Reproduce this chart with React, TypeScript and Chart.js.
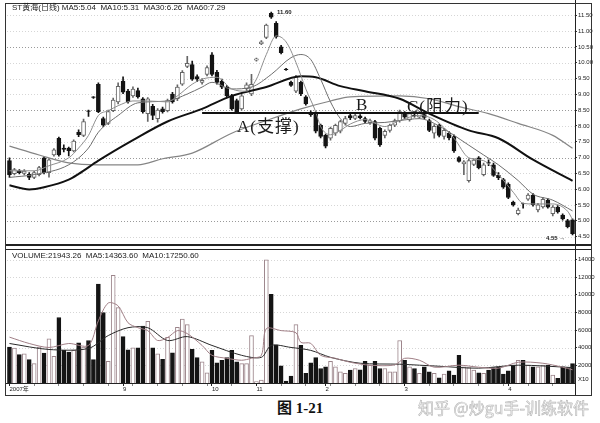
import React, { useEffect, useRef } from 'react';
import { Chart, registerables } from 'chart.js';

Chart.register(...registerables);

// ---------- price candles (daily) ----------
const OPEN = [6.90,6.49,6.58,6.50,6.47,6.37,6.46,6.99,6.52,7.08,7.61,7.30,7.30,7.21,7.80,7.70,8.48,8.92,9.32,8.23,8.08,8.48,8.76,9.42,9.10,8.95,9.12,8.86,8.39,8.62,8.23,8.54,8.48,9.01,8.86,9.32,9.88,9.94,9.56,9.38,9.63,10.25,9.70,9.42,9.23,8.95,8.80,8.54,9.18,9.01,10.08,10.60,10.80,11.56,11.25,10.50,9.80,9.38,9.10,9.38,8.92,8.42,8.39,8.02,7.70,7.61,7.77,7.83,8.08,8.33,8.24,8.32,8.23,8.10,8.14,7.92,7.70,7.86,8.02,8.17,8.39,8.20,8.34,8.28,8.36,8.17,7.77,8.02,7.67,7.77,7.67,7.00,6.80,6.27,6.78,6.99,6.46,6.84,6.77,6.44,6.30,6.15,5.59,5.22,5.54,5.68,5.81,5.34,5.44,5.65,5.22,5.43,5.18,5.00,5.03];
const HIGH = [6.99,6.66,6.62,6.62,6.52,6.56,6.72,7.03,6.97,7.28,7.65,7.40,7.33,7.56,7.88,8.22,8.50,8.93,9.36,8.28,8.50,8.88,9.36,9.55,9.16,9.24,9.20,8.90,8.90,8.68,8.55,8.60,8.85,9.06,9.30,9.75,10.20,10.05,9.62,9.50,9.90,10.32,9.76,9.48,9.28,9.00,8.85,9.00,9.36,9.63,10.15,10.70,11.22,11.60,11.30,10.55,9.82,9.42,9.60,9.42,8.96,8.48,8.45,8.06,7.74,7.96,8.06,8.18,8.30,8.38,8.38,8.36,8.28,8.22,8.18,7.96,7.88,8.06,8.22,8.50,8.45,8.44,8.40,8.46,8.42,8.22,8.04,8.06,7.92,7.82,7.72,7.03,6.90,6.96,6.97,7.03,6.82,6.93,6.82,6.52,6.34,6.20,5.62,5.40,5.56,5.86,5.86,5.55,5.74,5.70,5.48,5.48,5.22,5.04,5.06];
const LOW = [6.37,6.45,6.48,6.45,6.30,6.33,6.42,6.48,6.38,7.04,7.04,7.18,7.05,7.18,7.66,7.66,8.30,8.87,8.42,7.98,8.04,8.45,8.70,9.02,8.72,8.90,8.88,8.40,8.14,8.20,8.12,8.40,8.44,8.72,8.80,9.28,9.84,9.44,9.40,9.32,9.58,9.58,9.32,9.18,8.90,8.50,8.40,8.50,9.12,8.96,10.05,10.57,10.76,11.40,10.78,10.28,9.76,9.25,9.05,8.96,8.66,8.30,7.78,7.62,7.30,7.55,7.70,7.78,8.02,8.20,8.20,8.22,8.10,8.05,7.56,7.35,7.62,7.80,7.98,8.12,8.22,8.15,8.28,8.24,8.22,7.82,7.61,7.65,7.58,7.56,7.16,6.85,6.46,6.22,6.74,6.64,6.42,6.74,6.40,6.30,6.02,5.70,5.46,5.18,5.40,5.64,5.46,5.28,5.40,5.40,5.15,5.24,5.02,4.77,4.55];
const CLOSE = [6.46,6.62,6.52,6.57,6.37,6.52,6.68,6.52,6.93,7.24,7.08,7.26,7.22,7.52,7.72,8.14,8.46,8.90,8.45,8.02,8.45,8.82,9.25,9.07,8.76,9.17,8.92,8.45,8.86,8.33,8.50,8.45,8.80,8.76,9.23,9.70,9.98,9.48,9.48,9.44,9.85,9.63,9.38,9.23,8.95,8.54,8.45,8.95,9.30,9.32,10.12,10.66,11.19,11.44,10.82,10.32,9.78,9.28,9.55,9.01,8.70,8.36,7.83,7.67,7.36,7.92,8.02,8.14,8.23,8.25,8.33,8.26,8.14,8.17,7.61,7.40,7.83,8.02,8.17,8.45,8.28,8.39,8.32,8.40,8.27,7.86,7.99,7.70,7.86,7.62,7.21,6.88,6.86,6.90,6.92,6.68,6.77,6.82,6.43,6.36,6.06,5.74,5.50,5.34,5.53,5.81,5.50,5.50,5.68,5.43,5.43,5.28,5.06,4.81,4.59];

// ---------- volume (x10) ----------
const VOLUME = [4070,3960,3210,3320,2650,2200,4070,3400,5000,3020,7430,3700,3510,3700,4550,4070,4820,2650,11230,7990,2460,12210,8550,5260,3770,4000,4000,6460,6980,4000,3320,2690,5190,3430,6310,7240,6610,3810,2870,2390,1160,3700,2280,2580,2870,3700,2390,2200,2200,5380,150,340,13960,10040,4330,1940,220,780,6610,4260,1090,2300,2870,1640,1830,2460,1830,1270,1100,1460,1640,1500,2460,2020,2460,1640,1640,1270,1270,4820,2580,1830,1640,1090,1830,1270,1090,600,1000,1380,900,3140,1830,1750,1460,1160,1090,1460,1750,1830,1010,1380,2020,2580,2580,2020,1830,1830,2020,2020,900,520,1830,1750,2200];

// ---------- moving averages: [candle index, value] ----------
const MA5_PTS = [[0,6.58],[5,6.58],[8,6.74],[12,6.99],[14,7.30],[16,7.70],[18,8.33],[20,8.48],[22,8.64],[25,8.79],[28,8.79],[32,8.76],[34,8.95],[37,9.32],[39,9.48],[42,9.54],[45,9.17],[48,9.10],[50,9.48],[52,10.26],[54,10.85],[56,10.66],[58,10.01],[60,9.17],[62,8.45],[63,7.98],[65,7.72],[67,7.86],[69,8.06],[72,8.20],[76,7.98],[79,8.17],[83,8.33],[86,8.20],[90,7.61],[93,6.99],[96,6.90],[99,6.46],[102,5.90],[104,5.55],[106,5.53],[110,5.53],[113,5.30],[114,5.04]];
const MA10_PTS = [[0,6.37],[5,6.46],[12,6.77],[16,7.30],[18,7.80],[22,8.33],[26,8.73],[32,8.79],[36,9.01],[39,9.23],[41,9.38],[45,9.17],[49,9.23],[53,9.63],[57,10.16],[59,10.26],[61,10.10],[63,9.48],[65,8.76],[67,8.23],[69,7.98],[72,8.08],[76,8.11],[79,8.17],[83,8.23],[86,8.08],[93,7.39],[96,7.08],[99,6.77],[103,6.27],[106,5.84],[110,5.65],[114,5.31]];
const MA30_PTS = [[0,6.12],[4,5.99],[7,6.06],[12,6.30],[14,6.48],[18,6.90],[25,7.55],[32,8.14],[39,8.54],[45,8.95],[52,9.23],[59,9.57],[62,9.54],[67,9.26],[72,9.10],[79,8.86],[85,8.39],[93,7.86],[99,7.61],[106,6.93],[114,6.26]];
const MA60_PTS = [[0,7.36],[6,7.08],[12,6.83],[18,6.77],[26,6.77],[31,6.96],[37,7.14],[45,7.77],[52,8.17],[59,8.54],[65,8.79],[69,8.92],[79,8.95],[85,8.86],[91,8.61],[97,8.39],[103,8.08],[110,7.70],[114,7.29]];
const VOL_MA5_PTS = [[0,5200],[4,4480],[8,4030],[12,4480],[16,4260],[18,7060],[20,9070],[22,8740],[24,6830],[26,6270],[28,5940],[30,4820],[32,5150],[34,5940],[36,5600],[39,4260],[41,3140],[44,2800],[47,2580],[49,2800],[51,3140],[52,6160],[55,5940],[58,5700],[59,4600],[61,4500],[63,3140],[66,2800],[69,2350],[73,2020],[78,2050],[80,2800],[83,2580],[86,1790],[91,2020],[95,1790],[99,1680],[103,2350],[108,2240],[112,1790],[114,1500]];
const VOL_MA10_PTS = [[0,4480],[8,3800],[16,3920],[20,5380],[24,6270],[28,6270],[32,4820],[36,5260],[41,4260],[47,3140],[51,2910],[53,4260],[57,4030],[61,3700],[65,2910],[71,2240],[79,2130],[87,1900],[95,1680],[103,2020],[114,1750]];

// ---------- axes / annotations ----------
const PRICE_TICKS = [4.5,5,5.5,6,6.5,7,7.5,8,8.5,9,9.5,10,10.5,11,11.5];
const PRICE_GRID_MAJOR = [10.5,8.5,7,5];
const VOL_TICKS = [2000,4000,6000,8000,10000,12000,14000];
const X_TICK_IDX = [0,23,41,50,64,80,101];
const X_TICK_TEXT = ['2007年','9','10','11','2','3','4'];
const SR_LEVEL = 8.41;
const SR_FROM = 39;
const SR_TO = 95;

const N = OPEN.length;
const LABELS = OPEN.map((_, i) => String(i));
const FONT = '"Liberation Sans", "Noto Sans CJK SC", sans-serif';

const sparse = (pts: number[][]) => {
  const a: (number | null)[] = new Array(N).fill(null);
  pts.forEach(([i, v]) => { a[i] = v; });
  return a;
};
const isUp = (i: number) => CLOSE[i] >= OPEN[i];

function panelPlugin(kind: string) {
  return {
    id: 'panel_' + kind,
    beforeDatasetsDraw(chart: any) {
      const { ctx, chartArea: a } = chart;
      const ys = chart.scales.y;
      const vals = kind === 'price' ? PRICE_TICKS : VOL_TICKS;
      ctx.save();
      ctx.lineWidth = 1;
      ctx.setLineDash([1, 2]);
      vals.forEach((v: number) => {
        const y = Math.round(ys.getPixelForValue(v)) + 0.5;
        ctx.strokeStyle = kind === 'price' && PRICE_GRID_MAJOR.includes(v) ? '#9a9a9a' : '#d6d6d6';
        ctx.beginPath();
        ctx.moveTo(a.left, y);
        ctx.lineTo(a.right, y);
        ctx.stroke();
      });
      ctx.restore();
    },
    afterDatasetsDraw(chart: any) {
      if (kind !== 'price') return;
      const { ctx } = chart;
      const xs = chart.scales.x;
      const ys = chart.scales.y;
      const y = ys.getPixelForValue(SR_LEVEL);
      ctx.save();
      ctx.strokeStyle = '#111';
      ctx.lineWidth = 2;
      ctx.beginPath();
      ctx.moveTo(xs.getPixelForValue(SR_FROM), y);
      ctx.lineTo(xs.getPixelForValue(SR_TO), y);
      ctx.stroke();
      ctx.restore();
    },
    afterDraw(chart: any) {
      const { ctx, chartArea: a, height } = chart;
      ctx.save();
      ctx.fillStyle = '#222';
      ctx.fillRect(Math.round(a.right), 0, 1, height);
      if (kind === 'price') {
        ctx.fillRect(5, Math.round(a.bottom), 587, 2);
      } else {
        ctx.fillRect(5, 0, 587, 1);
        ctx.fillRect(5, Math.round(a.bottom), Math.round(a.right) - 5, 1);
      }
      ctx.restore();
    },
  };
}

const lineDs = (label: string, pts: number[][], color: string, width: number, smooth = 'monotone') => ({
  type: 'line' as const,
  label,
  data: sparse(pts),
  borderColor: color,
  borderWidth: width,
  pointRadius: 0,
  spanGaps: true,
  fill: false,
  tension: 0.3,
  cubicInterpolationMode: smooth,
  order: 0,
});

function priceConfig(): any {
  return {
    type: 'bar',
    data: {
      labels: LABELS,
      datasets: [
        lineDs('MA5', MA5_PTS, '#8e8e8e', 1),
        lineDs('MA10', MA10_PTS, '#6e6e6e', 1),
        lineDs('MA30', MA30_PTS, '#111111', 2),
        lineDs('MA60', MA60_PTS, '#858585', 1.2),
        {
          label: 'body',
          data: OPEN.map((o, i) => [Math.min(o, CLOSE[i]), Math.max(o, CLOSE[i])]),
          backgroundColor: OPEN.map((_, i) => (isUp(i) ? '#ffffff' : '#141414')),
          borderColor: OPEN.map((_, i) => (isUp(i) ? '#666666' : '#141414')),
          borderWidth: 1,
          borderSkipped: false,
          barThickness: 4,
          grouped: false,
          order: 1,
        },
        {
          label: 'wick',
          data: LOW.map((l, i) => [l, HIGH[i]]),
          backgroundColor: OPEN.map((_, i) => (isUp(i) ? '#666666' : '#141414')),
          borderWidth: 0,
          barThickness: 1,
          grouped: false,
          order: 2,
        },
      ],
    },
    options: {
      responsive: false,
      animation: false,
      events: [],
      layout: { padding: { left: 7, right: 0, top: 4, bottom: 1 } },
      plugins: { legend: { display: false }, tooltip: { enabled: false } },
      scales: {
        x: { type: 'category', display: false, offset: true },
        y: {
          position: 'right',
          min: 4.25,
          max: 11.84,
          afterFit: (s: any) => { s.width = 25; },
          afterBuildTicks: (s: any) => { s.ticks = PRICE_TICKS.map((v) => ({ value: v })); },
          ticks: {
            callback: (v: any) => Number(v).toFixed(2),
            font: { size: 6, family: FONT },
            color: '#222',
            padding: 1,
          },
          grid: { drawOnChartArea: false, drawTicks: true, tickLength: 2, color: '#333' },
          border: { display: false },
        },
      },
    },
    plugins: [panelPlugin('price')],
  };
}

function volConfig(): any {
  return {
    type: 'bar',
    data: {
      labels: LABELS,
      datasets: [
        lineDs('VMA5', VOL_MA5_PTS, '#a07f86', 1, 'default'),
        lineDs('VMA10', VOL_MA10_PTS, '#2a2a2a', 1, 'default'),
        {
          label: 'volume',
          data: VOLUME,
          backgroundColor: VOLUME.map((_, i) => (isUp(i) ? '#ffffff' : '#141414')),
          borderColor: VOLUME.map((_, i) => (isUp(i) ? '#9c858b' : '#141414')),
          borderWidth: 1,
          borderSkipped: 'start',
          barThickness: 4,
          grouped: false,
          order: 1,
        },
      ],
    },
    options: {
      responsive: false,
      animation: false,
      events: [],
      layout: { padding: { left: 7, right: 0, top: 3, bottom: 0 } },
      plugins: { legend: { display: false }, tooltip: { enabled: false } },
      scales: {
        x: {
          type: 'category',
          offset: true,
          afterFit: (s: any) => { s.height = 13; },
          ticks: {
            autoSkip: false,
            maxRotation: 0,
            minRotation: 0,
            align: 'start',
            padding: 0,
            font: { size: 6, family: FONT },
            color: '#222',
            callback: (_v: any, idx: number) => {
              const k = X_TICK_IDX.indexOf(idx);
              return k >= 0 ? X_TICK_TEXT[k] : '';
            },
          },
          grid: {
            offset: false,
            drawOnChartArea: false,
            drawTicks: true,
            tickLength: 3,
            color: (ctx: any) =>
              X_TICK_IDX.includes(ctx.index) ? '#222' : ctx.index % 5 === 0 ? '#888' : 'rgba(0,0,0,0)',
          },
          border: { display: false },
        },
        y: {
          position: 'right',
          min: 0,
          max: 14672,
          afterFit: (s: any) => { s.width = 25; },
          afterBuildTicks: (s: any) => { s.ticks = VOL_TICKS.map((v) => ({ value: v })); },
          ticks: {
            callback: (v: any) => String(v),
            font: { size: 6, family: FONT },
            color: '#222',
            padding: 1,
          },
          grid: { drawOnChartArea: false, drawTicks: true, tickLength: 2, color: '#333' },
          border: { display: false },
        },
      },
    },
    plugins: [panelPlugin('vol')],
  };
}

const T = ({ x, y, size, children, style }: any) => (
  <div
    style={{
      position: 'absolute',
      left: x,
      top: y,
      fontSize: size,
      lineHeight: size + 'px',
      whiteSpace: 'pre',
      fontFamily: FONT,
      color: '#1a1a1a',
      pointerEvents: 'none',
      ...style,
    }}
  >
    {children}
  </div>
);

const SERIF = '"Liberation Serif", "Noto Sans CJK SC", serif';

export default function App() {
  const priceRef = useRef<HTMLCanvasElement>(null);
  const volRef = useRef<HTMLCanvasElement>(null);

  useEffect(() => {
    const c1 = new Chart(priceRef.current as HTMLCanvasElement, priceConfig());
    const c2 = new Chart(volRef.current as HTMLCanvasElement, volConfig());
    return () => {
      c1.destroy();
      c2.destroy();
    };
  }, []);

  return (
    <div style={{ position: 'fixed', left: 0, top: 0, width: 600, height: 423, background: '#fff', overflow: 'hidden' }}>
      <canvas ref={priceRef} width={600} height={249} style={{ position: 'absolute', left: 0, top: 0, display: 'block' }} />
      <canvas ref={volRef} width={600} height={147} style={{ position: 'absolute', left: 0, top: 249, display: 'block' }} />
      <div
        style={{
          position: 'absolute',
          left: 5,
          top: 3,
          width: 587,
          height: 393,
          border: '1px solid #333',
          boxSizing: 'border-box',
          pointerEvents: 'none',
        }}
      />
      <T x={12} y={4} size={8}>ST黄海(日线) MA5:5.04  MA10:5.31  MA30:6.26  MA60:7.29</T>
      <T x={12} y={252} size={8}>VOLUME:21943.26  MA5:14363.60  MA10:17250.60</T>
      <T x={277} y={9} size={6} style={{ fontWeight: 700 }}>11.60</T>
      <T x={546} y={235} size={6} style={{ fontWeight: 700 }}>4.55 →</T>
      <T x={578} y={376} size={6}>X10</T>
      <T x={237} y={118} size={17} style={{ fontFamily: SERIF, letterSpacing: 1 }}>A(支撑)</T>
      <T x={356} y={96} size={17} style={{ fontFamily: SERIF }}>B</T>
      <T x={407} y={98} size={17} style={{ fontFamily: SERIF, letterSpacing: 1 }}>C(阻力)</T>
      <T x={277} y={401} size={15} style={{ fontFamily: SERIF, fontWeight: 700, color: '#111' }}>图 1-21</T>
      <T
        x={418}
        y={399}
        size={16}
        style={{ fontFamily: '"Noto Sans CJK SC", sans-serif', color: '#f4f4f4', WebkitTextStroke: '0.6px #b8b8b8' }}
      >
        知乎 @炒gu手-训练软件
      </T>
    </div>
  );
}
